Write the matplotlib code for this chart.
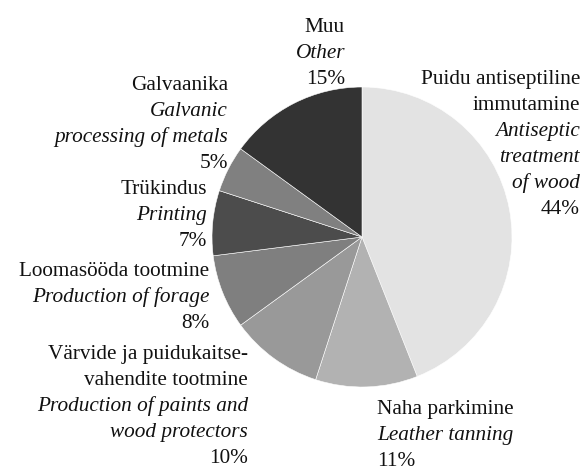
import matplotlib.pyplot as plt

# andmed (sektorid kellaosuti suunas alates ülevalt)
names_et = ['Puidu antiseptiline\nimmutamine', 'Naha parkimine',
            'Värvide ja puidukaitse-\nvahendite tootmine', 'Loomasööda tootmine',
            'Trükindus', 'Galvaanika', 'Muu']
names_en = ['Antiseptic\ntreatment\nof wood', 'Leather tanning',
            'Production of paints and\nwood protectors', 'Production of forage',
            'Printing', 'Galvanic\nprocessing of metals', 'Other']
shares = [44, 11, 10, 8, 7, 5, 15]
colors = ['#e3e3e3', '#b2b2b2', '#999999', '#7f7f7f', '#4c4c4c', '#808080', '#333333']

plt.rcParams['font.family'] = 'serif'
plt.rcParams['font.serif'] = ['Liberation Serif', 'DejaVu Serif']

W, H = 584, 466
fig = plt.figure(figsize=(W / 100, H / 100), dpi=100)
ax = fig.add_axes([0, 0, 1, 1])

ax.pie(shares, colors=colors, startangle=90, counterclock=False,
       center=(362, H - 237), radius=150,
       wedgeprops=dict(edgecolor='white', linewidth=0.4))

ax.set_xlim(0, W)
ax.set_ylim(0, H)
ax.set_aspect('equal')
ax.axis('off')

# sildi ankrud: x, esimese rea y (pikslid ülevalt), joondus
anchors = [(580, 77, 'right'), (377, 407, 'left'), (248, 352, 'right'),
           (209, 269, 'right'), (207, 187, 'right'), (228, 83, 'right'),
           (345, 25, 'right')]
step = 26
for et, en, s, (x, y0, ha) in zip(names_et, names_en, shares, anchors):
    lines = [(t, 'normal') for t in et.split('\n')]
    lines += [(t, 'italic') for t in en.split('\n')]
    lines += [(f'{s}%', 'normal')]
    for i, (t, st) in enumerate(lines):
        ax.text(x, H - (y0 + i * step), t, ha=ha, va='center_baseline',
                fontsize=15.3, fontstyle=st, color='#111111')

fig.savefig('out.png', dpi=100)
